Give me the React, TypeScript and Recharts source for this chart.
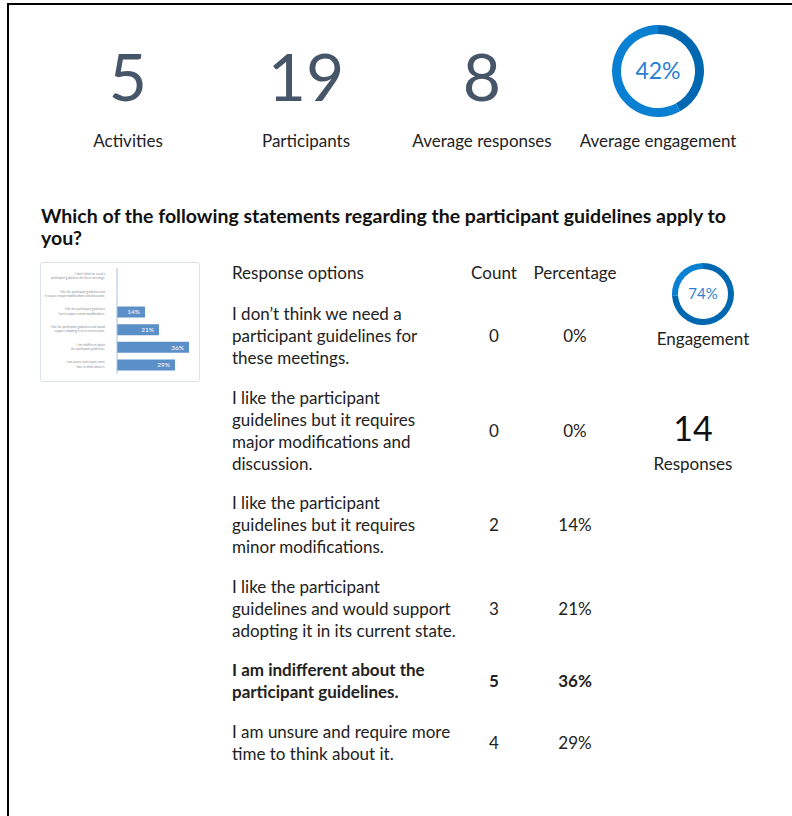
import { PieChart, Pie, Cell, Label, BarChart, Bar, XAxis, YAxis, LabelList } from "recharts";

// summary figures
const statLabels = ["Activities", "Participants", "Average responses"];
const statValues = [5, 19, 8];
const avgEngagement = 42;

// question breakdown
const question = "Which of the following statements regarding the participant guidelines apply to\nyou?";
const options = [
  "I don’t think we need a\nparticipant guidelines for\nthese meetings.",
  "I like the participant\nguidelines but it requires\nmajor modifications and\ndiscussion.",
  "I like the participant\nguidelines but it requires\nminor modifications.",
  "I like the participant\nguidelines and would support\nadopting it in its current state.",
  "I am indifferent about the\nparticipant guidelines.",
  "I am unsure and require more\ntime to think about it.",
];
const counts = [0, 0, 2, 3, 5, 4];
const percents = [0, 0, 14, 21, 36, 29];
const topIndex = 4;
const questionEngagement = 74;
const responses = 14;

const FONT = "Lato, 'Noto Sans', sans-serif";
const DARK = "#0067b1";
const LIGHT = "#0a80d3";

function Donut({ value, size, thickness, fontSize }: { value: number; size: number; thickness: number; fontSize: number }) {
  const data = [
    { name: "value", v: value },
    { name: "rest", v: 100 - value },
  ];
  const r = size / 2 - 1;
  return (
    <PieChart width={size} height={size} margin={{ top: 0, right: 0, bottom: 0, left: 0 }}>
      <Pie
        data={data}
        dataKey="v"
        cx="50%"
        cy="50%"
        outerRadius={r}
        innerRadius={r - thickness}
        startAngle={90}
        endAngle={-270}
        stroke="none"
        isAnimationActive={false}
      >
        <Cell fill={DARK} />
        <Cell fill={LIGHT} />
        <Label
          value={value + "%"}
          position="center"
          fill="#2b7fd3"
          style={{ fontSize, fontFamily: "Lato" }}
        />
      </Pie>
    </PieChart>
  );
}

const thumbData = options.map((o, i) => ({ name: o.replace(/\n/g, " "), pct: percents[i] }));

function TinyTick(props: any) {
  const { x, y, payload } = props;
  const words = String(payload.value).split(" ");
  const half = Math.ceil(words.length / 2);
  const lines = [words.slice(0, half).join(" "), words.slice(half).join(" ")];
  return (
    <g>
      {lines.map((l, i) => (
        <text key={i} x={x - 4} y={y - 2 + i * 4.5} textAnchor="end" fontSize={3} fill="#8a8f96" fontFamily="Lato">
          {l}
        </text>
      ))}
    </g>
  );
}

function Thumbnail() {
  return (
    <BarChart
      width={158}
      height={118}
      data={thumbData}
      layout="vertical"
      margin={{ top: 5, right: 2, bottom: 7, left: 0 }}
      barCategoryGap="18%"
    >
      <XAxis type="number" domain={[0, 40]} hide />
      <YAxis
        type="category"
        dataKey="name"
        width={76}
        axisLine={{ stroke: "#a9c2de", strokeWidth: 1 }}
        tickLine={false}
        tick={<TinyTick />}
        interval={0}
      />
      <Bar dataKey="pct" fill="#5b8fc8" isAnimationActive={false}>
        <LabelList
          dataKey="pct"
          position="insideRight"
          fill="#ffffff"
          fontSize={6.5}
          fontFamily="Lato"
          formatter={(v: any) => (v > 0 ? v + "%" : "")}
        />
      </Bar>
    </BarChart>
  );
}

export default function App() {
  const statX = [128, 306, 482];
  return (
    <div
      style={{
        position: "absolute",
        left: 0,
        top: 0,
        width: 792,
        height: 816,
        overflow: "hidden",
        background: "#fff",
        fontFamily: FONT,
        color: "#222",
      }}
    >
      <div
        style={{
          position: "absolute",
          left: 7,
          top: 3,
          width: 900,
          height: 900,
          borderTop: "2px solid #000",
          borderLeft: "2px solid #000",
        }}
      />

      {statValues.map((v, i) => (
        <div key={i}>
          <div
            style={{
              position: "absolute",
              left: statX[i] - 80,
              width: 160,
              top: 38,
              textAlign: "center",
              fontSize: 66,
              lineHeight: "76px",
              color: "#465568",
            }}
          >
            {v}
          </div>
          <div
            style={{
              position: "absolute",
              left: statX[i] - 100,
              width: 200,
              top: 131,
              textAlign: "center",
              fontSize: 17,
              lineHeight: "20px",
            }}
          >
            {statLabels[i]}
          </div>
        </div>
      ))}
      <div style={{ position: "absolute", left: 611, top: 24 }}>
        <Donut value={avgEngagement} size={94} thickness={9} fontSize={23} />
      </div>
      <div
        style={{
          position: "absolute",
          left: 558,
          width: 200,
          top: 131,
          textAlign: "center",
          fontSize: 17,
          lineHeight: "20px",
        }}
      >
        Average engagement
      </div>

      <div
        style={{
          position: "absolute",
          left: 41,
          top: 205,
          fontSize: 19.5,
          fontWeight: 700,
          lineHeight: "22px",
          whiteSpace: "pre",
          color: "#111",
        }}
      >
        {question}
      </div>

      <div
        style={{
          position: "absolute",
          left: 40,
          top: 262,
          width: 160,
          height: 120,
          border: "1px solid #dbe1e8",
          borderRadius: 3,
          boxSizing: "border-box",
        }}
      >
        <Thumbnail />
      </div>

      <div style={{ position: "absolute", left: 232, top: 263, fontSize: 17, lineHeight: "20px" }}>Response options</div>
      <div style={{ position: "absolute", left: 454, width: 80, top: 263, textAlign: "center", fontSize: 17, lineHeight: "20px" }}>Count</div>
      <div style={{ position: "absolute", left: 525, width: 100, top: 263, textAlign: "center", fontSize: 17, lineHeight: "20px" }}>Percentage</div>

      <div
        style={{
          position: "absolute",
          left: 232,
          top: 303,
          width: 400,
          display: "flex",
          flexDirection: "column",
          gap: 17.5,
        }}
      >
        {options.map((o, i) => {
          const bold = i === topIndex;
          return (
            <div key={i} style={{ position: "relative", display: "flex", alignItems: "center", fontSize: 17, lineHeight: "22px", fontWeight: bold ? 700 : 400 }}>
              <div style={{ width: 230, whiteSpace: "pre" }}>{o}</div>
              <div style={{ position: "absolute", left: 222, width: 80, textAlign: "center" }}>{counts[i]}</div>
              <div style={{ position: "absolute", left: 293, width: 100, textAlign: "center" }}>{percents[i]}%</div>
            </div>
          );
        })}
      </div>

      <div style={{ position: "absolute", left: 671, top: 262 }}>
        <Donut value={questionEngagement} size={64} thickness={6} fontSize={15} />
      </div>
      <div style={{ position: "absolute", left: 623, width: 160, top: 329, textAlign: "center", fontSize: 17, lineHeight: "20px" }}>Engagement</div>
      <div style={{ position: "absolute", left: 613, width: 160, top: 408, textAlign: "center", fontSize: 34, lineHeight: "40px", color: "#111" }}>{responses}</div>
      <div style={{ position: "absolute", left: 613, width: 160, top: 454, textAlign: "center", fontSize: 17, lineHeight: "20px" }}>Responses</div>
    </div>
  );
}
